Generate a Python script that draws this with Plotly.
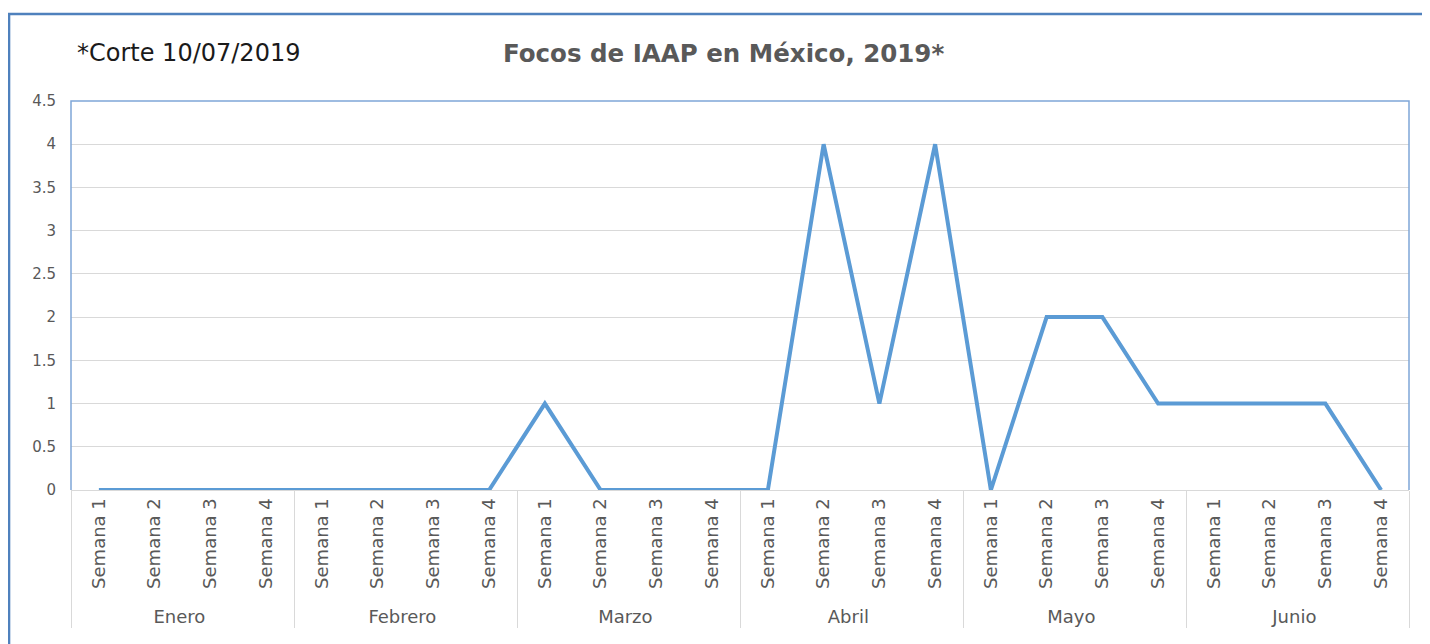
import plotly.graph_objects as go

# datos semanales de focos de IAAP, corte 10/07/2019
meses = ["Enero", "Febrero", "Marzo", "Abril", "Mayo", "Junio"]
semanas = ["Semana 1", "Semana 2", "Semana 3", "Semana 4"]
focos = [0, 0, 0, 0,
         0, 0, 0, 0,
         1, 0, 0, 0,
         0, 4, 1, 4,
         0, 2, 2, 1,
         1, 1, 1, 0]

x_mes = [m for m in meses for s in semanas]
x_sem = [s for m in meses for s in semanas]

fig = go.Figure()
fig.add_trace(go.Scatter(
    x=[x_mes, x_sem], y=focos, mode="lines",
    line=dict(color="#5b9bd5", width=4), showlegend=False,
))

fig.update_layout(
    width=1430, height=644,
    margin=dict(l=63, r=29, t=93, b=162),
    paper_bgcolor="white", plot_bgcolor="white",
    font=dict(family="DejaVu Sans", color="#595959", size=15),
    annotations=[
        dict(text="<b>Focos de IAAP en México, 2019*</b>", xref="paper", yref="paper",
             x=0.488, y=1.123, xanchor="center", yanchor="middle", showarrow=False,
             font=dict(size=24.5, color="#595959")),
        dict(text="*Corte 10/07/2019", xref="paper", yref="paper",
             x=0.0027, y=1.123, xanchor="left", yanchor="middle",
             showarrow=False, font=dict(size=24, color="#1a1a1a")),
    ],
    shapes=[
        # borde del area de grafica
        dict(type="path", xref="paper", yref="paper", path="M 0,0 L 0,1 L 1,1 L 1,0",
             line=dict(color="#7fa6d8", width=1.5)),
        # borde exterior
        dict(type="rect", xref="paper", yref="paper", x0=-0.0463, x1=1.05, y0=-0.5, y1=1.2237,
             line=dict(color="#4f81bd", width=2.5)),
    ],
)

fig.update_xaxes(
    range=[-0.5, 23.5],
    tickangle=-90, tickfont=dict(size=18, color="#595959"),
    showline=True, linecolor="#d9d9d9", linewidth=1,
    showgrid=False, ticks="", dividercolor="#d9d9d9", dividerwidth=1,
)
fig.update_yaxes(
    range=[0, 4.5], dtick=0.5, tickformat="~g",
    showgrid=True, gridcolor="#d9d9d9", gridwidth=1, zeroline=False,
    tickfont=dict(size=15, color="#595959"), ticks="", ticklabelstandoff=14,
)

fig.write_html("out.html")
